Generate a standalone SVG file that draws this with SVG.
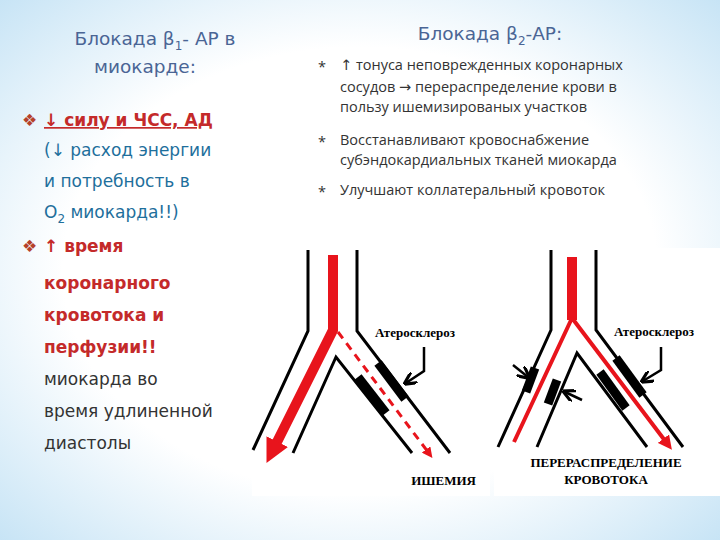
<svg xmlns="http://www.w3.org/2000/svg" width="720" height="540" viewBox="0 0 720 540">
<defs>
<radialGradient id="bg" cx="50%" cy="50%" r="75%">
<stop offset="0.55" stop-color="#ffffff"/><stop offset="1" stop-color="#bfe0f4"/>
</radialGradient>
<marker id="ah" viewBox="0 0 10 10" refX="3" refY="5" markerWidth="2.4" markerHeight="2.4" orient="auto"><path d="M0,0L10,5L0,10z" fill="#e8141c"/></marker>
<marker id="ahs" viewBox="0 0 10 10" refX="3" refY="5" markerWidth="3.5" markerHeight="3.5" orient="auto"><path d="M0,0L10,5L0,10z" fill="#e8141c"/></marker>
<marker id="bk" viewBox="0 0 10 10" refX="8" refY="5" markerWidth="5" markerHeight="5" orient="auto"><path d="M0,0L10,5L0,10" fill="none" stroke="#000" stroke-width="2.5"/></marker>
<style>
.t{font-family:"DejaVu Sans",sans-serif;font-size:17px;font-weight:bold}
.ti{font-family:"DejaVu Sans",sans-serif;font-size:18.5px;font-weight:normal;fill:#4a6595}
.b{fill:#1e6f9c}.r{fill:#c42a2a}.k{fill:#333}
.s{font-family:"Open Sans","DejaVu Sans",sans-serif;font-size:14.5px;fill:#333}
.w{fill:none;stroke:#000;stroke-width:3}
.p{stroke:#000;stroke-width:9;stroke-linecap:butt}
.lab{font-family:"Liberation Serif",serif;font-weight:bold;font-size:13px;fill:#000}
</style>
</defs>
<rect width="720" height="540" fill="url(#bg)"/>
<g id="left-text" class="t">
<text x="155" y="45" text-anchor="middle" class="ti">Блокада β<tspan font-size="12" dy="5">1</tspan><tspan dy="-5">- АР в</tspan></text>
<text x="145" y="73" text-anchor="middle" class="ti">миокарде:</text>
<text x="22" y="126" fill="#b5412a">❖</text>
<text x="44" y="126" class="r" text-decoration="underline">↓ силу и ЧСС, АД</text>
<text x="44" y="156" class="b" font-weight="normal">(↓ расход энергии</text>
<text x="44" y="187" class="b" font-weight="normal">и  потребность в</text>
<text x="44" y="218" class="b" font-weight="normal">O<tspan font-size="12" dy="5">2</tspan><tspan dy="-5"> миокарда!!)</tspan></text>
<text x="22" y="252" fill="#b5412a">❖</text>
<text x="44" y="252" class="r">↑ время</text>
<text x="44" y="289" class="r">коронарного</text>
<text x="44" y="321" class="r">кровотока и</text>
<text x="44" y="353" class="r">перфузии!!</text>
<text x="44" y="385" class="k" font-weight="normal">миокарда во</text>
<text x="44" y="417" class="k" font-weight="normal">время удлиненной</text>
<text x="44" y="449" class="k" font-weight="normal">диастолы</text>
</g>
<g id="right-text">
<text x="490" y="40" text-anchor="middle" class="ti">Блокада β<tspan font-size="12" dy="5">2</tspan><tspan dy="-5">-АР:</tspan></text>
<text x="318" y="72" class="s">*</text><text x="340" y="70" class="s">↑ тонуса неповрежденных коронарных</text>
<text x="340" y="92" class="s">сосудов → перераспределение крови в</text>
<text x="340" y="112" class="s">пользу ишемизированых участков</text>
<text x="318" y="147" class="s">*</text><text x="340" y="145" class="s">Восстанавливают кровоснабжение</text>
<text x="340" y="165" class="s">субэндокардиальных тканей миокарда</text>
<text x="318" y="197" class="s">*</text><text x="340" y="195" class="s">Улучшают коллатеральный кровоток</text>
</g>
<g id="diagram1">
<rect x="252" y="248" width="238" height="248" fill="#fff"/>
<path class="w" d="M308,250V331L253,450M357,250V331L450,453M293,453L336,357L412,453"/>
<path d="M333,255V330L274,448" fill="none" stroke="#e8141c" stroke-width="10" marker-end="url(#ah)"/>
<path d="M338,332L428,452" fill="none" stroke="#e8141c" stroke-width="3" stroke-dasharray="8,6" marker-end="url(#ahs)"/>
<line class="p" x1="378" y1="363" x2="405" y2="399"/>
<line class="p" x1="358" y1="377" x2="386" y2="413"/>
<text x="375" y="337" class="lab">Атеросклероз</text>
<path d="M424,347V371L406,383" fill="none" stroke="#000" stroke-width="2.5" marker-end="url(#bk)"/>
<text x="476" y="485" class="lab" font-size="14" text-anchor="end">ИШЕМИЯ</text>
</g>
<g id="diagram2">
<rect x="494" y="248" width="226" height="248" fill="#fff"/>
<path class="w" d="M551,250V330L498,447M596,250V330L683,447M537,447L577,353L647,447"/>
<path d="M572,257V320" stroke="#e8141c" stroke-width="10"/>
<path d="M572,318L514,442M572,318L666,442" fill="none" stroke="#e8141c" stroke-width="4" marker-end="url(#ahs)"/>
<line class="p" x1="535" y1="368" x2="526" y2="392"/>
<line class="p" x1="557" y1="380" x2="548" y2="404"/>
<line class="p" x1="600" y1="372" x2="626" y2="408"/>
<line class="p" x1="616" y1="358" x2="643" y2="395"/>
<text x="614" y="336" class="lab">Атеросклероз</text>
<path d="M661,347V370L643,381" fill="none" stroke="#000" stroke-width="2.5" marker-end="url(#bk)"/>
<path d="M513,365L528,377" fill="none" stroke="#000" stroke-width="2.5" marker-end="url(#bk)"/>
<path d="M582,400L565,392" fill="none" stroke="#000" stroke-width="2.5" marker-end="url(#bk)"/>
<text x="606" y="467" class="lab" font-size="14" text-anchor="middle">ПЕРЕРАСПРЕДЕЛЕНИЕ</text>
<text x="606" y="484" class="lab" font-size="14" text-anchor="middle">КРОВОТОКА</text>
</g>
</svg>
